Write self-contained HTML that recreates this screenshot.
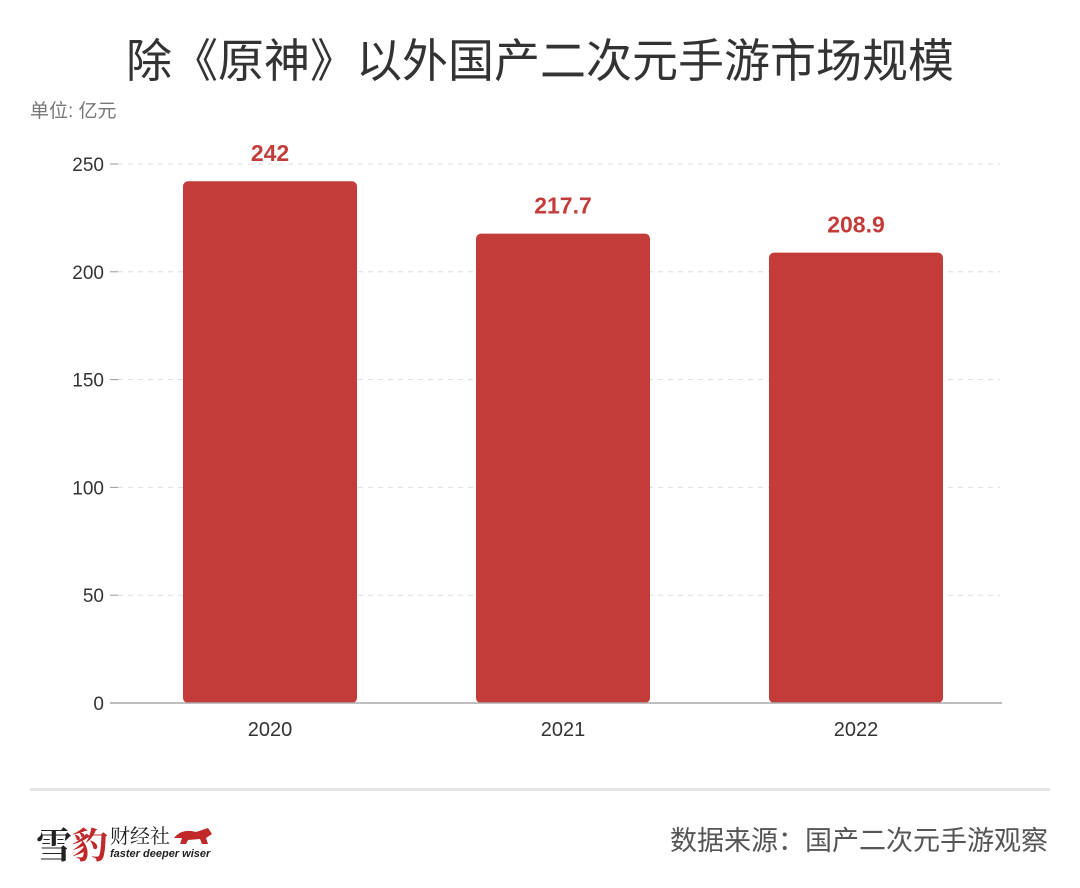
<!DOCTYPE html>
<html><head><meta charset="utf-8"><style>
body{margin:0;width:1080px;height:888px;background:#fff;font-family:"Liberation Sans","Noto Sans CJK SC",sans-serif;overflow:hidden;position:relative}
.t{position:absolute;white-space:nowrap}
</style></head><body>
<div class="t" style="left:0;width:1080px;text-align:center;top:25px;font-size:46px;color:#333">除《原神》以外国产二次元手游市场规模</div>
<div class="t" style="left:30px;top:96px;font-size:19px;color:#777">单位: 亿元</div>
<svg id="c" width="1080" height="888" style="position:absolute;left:0;top:0"></svg>
<div style="position:absolute;left:30px;top:788px;width:1020px;height:3px;background:#e4e4e4"></div>
<div style="position:absolute;left:36px;top:818px;width:180px;height:50px">
<span class="t" style="left:0;top:0;font-family:'Noto Serif CJK SC',serif;font-size:36px;color:#222;font-weight:bold">雪</span>
<span class="t" style="left:36px;top:0;font-family:'Noto Serif CJK SC',serif;font-size:36px;color:#c0282a;font-weight:bold">豹</span>
<span class="t" style="left:74px;top:2px;font-family:'Noto Serif CJK SC',serif;font-size:20px;color:#222">财经社</span>
<span class="t" style="left:74px;top:30px;font-size:11px;font-style:italic;font-weight:bold;color:#222">faster deeper wiser</span>
<svg style="position:absolute;left:136px;top:6px" width="42" height="22"><path d="M2 14 Q10 4 24 8 L36 4 L40 10 L34 14 L36 20 L30 20 L28 15 L16 16 L14 20 L8 20 L10 14 Z" fill="#c0282a"/></svg>
</div>
<div class="t" style="right:32px;top:819px;font-size:27px;color:#555">数据来源：国产二次元手游观察</div>
<script>
const categories=["2020","2021","2022"];
const values=[242,217.7,208.9];
const valueLabels=["242","217.7","208.9"];
const yTicks=[0,50,100,150,200,250];
const svg=document.getElementById('c');const NS='http://www.w3.org/2000/svg';
const y0=703,pxPerUnit=539/250;const y=v=>y0-v*pxPerUnit;
const x=i=>183+i*293;const bw=174;
function mk(t,a){const e=document.createElementNS(NS,t);for(const k in a)e.setAttribute(k,a[k]);svg.appendChild(e);return e;}
yTicks.forEach(v=>{
 if(v>0){const g=mk('line',{x1:118,x2:1000,y1:y(v),y2:y(v),stroke:'#ddd','stroke-dasharray':'5,5'});
 
 }
 const tk=mk('line',{x1:110,x2:118,y1:y(v),y2:y(v),stroke:'#999'});
 
 
 const t=mk('text',{x:104,y:y(v)+7,'text-anchor':'end','font-size':19,fill:'#333'});t.textContent=v;
 
 
});
values.forEach((v,i)=>{
 const r=mk('rect',{x:x(i),y:y(v),width:bw,height:y0-y(v),rx:5,fill:'#c43c3a'});
 
 
 const l=mk('text',{x:x(i)+bw/2,y:y(v)-20,'text-anchor':'middle','font-size':23,'font-weight':'bold',fill:'#c43c3a'});l.textContent=valueLabels[i];
 
 
 const c=mk('text',{x:x(i)+bw/2,y:736,'text-anchor':'middle','font-size':20,fill:'#333'});c.textContent=categories[i];
 
 
});
const ax=mk('line',{x1:110,x2:1002,y1:y0,y2:y0,stroke:'#aaa','stroke-width':1.5});


</script>
</body></html>
